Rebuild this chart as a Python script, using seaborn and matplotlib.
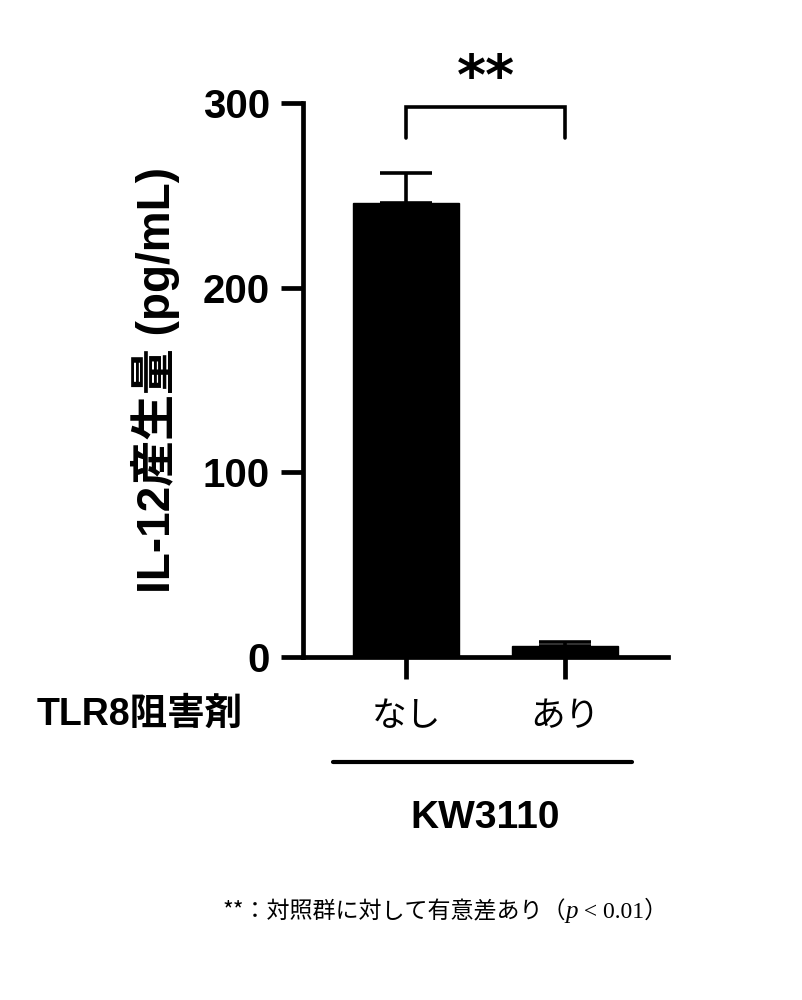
import matplotlib
matplotlib.use("Agg")
import matplotlib.pyplot as plt
import seaborn as sns
import pandas as pd

# data
groups = ["なし", "あり"]
il12 = [246, 6]
sem = [16, 2.3]
y_ticks = [0, 100, 200, 300]

sns.set_theme(style="ticks")
plt.rcParams["font.family"] = ["Liberation Sans", "Noto Sans CJK JP", "DejaVu Sans"]
plt.rcParams.update({"text.color": "black", "axes.labelcolor": "black",
                     "xtick.color": "black", "ytick.color": "black",
                     "axes.edgecolor": "black"})

df = pd.DataFrame({"group": groups, "value": il12})

fig = plt.figure(figsize=(8.02, 10), dpi=100)
ax = fig.add_axes([0.378, 0.343, 0.455, 0.554])

sns.barplot(data=df, x="group", y="value", color="black", edgecolor="black",
            width=0.667, linewidth=1, saturation=1, errorbar=None, ax=ax)
ax.errorbar(range(len(groups)), il12, yerr=[[0] * len(sem), sem], fmt="none",
            ecolor="black", elinewidth=2.6, capsize=19, capthick=2.6, zorder=3)

ax.set_xlim(-0.65, 1.65)
ax.set_ylim(0, 300)
ax.set_yticks(y_ticks)
ax.set_yticklabels([str(t) for t in y_ticks], fontsize=29, fontweight="bold")
ax.set_xticks(range(len(groups)))
ax.set_xticklabels(groups, fontsize=25, family=["Noto Sans CJK JP", "DejaVu Sans"])
ax.set_xlabel("")
ax.set_ylabel("IL-12産生量 (pg/mL)", fontsize=33, fontweight="bold", labelpad=16)

sns.despine(ax=ax)
for side in ["left", "bottom"]:
    ax.spines[side].set_linewidth(3.4)
ax.tick_params(axis="both", width=3.4, length=16, color="black")
ax.tick_params(axis="y", pad=8)
ax.tick_params(axis="x", pad=14)

# significance bracket
br_low, br_high = 281, 298
ax.plot([0, 0, 1, 1], [br_low, br_high, br_high, br_low], color="black",
        lw=2.6, clip_on=False, solid_joinstyle="miter")
ax.text(0.5, 313, "**", ha="center", va="center", fontsize=40,
        fontweight="bold", family="DejaVu Sans", clip_on=False)

# group label row
fig.text(37 / 802, 1 - 715 / 1000, "TLR8阻害剤", ha="left", va="center",
         fontsize=27, fontweight="bold")
ax.plot([-0.46, 1.42], [-0.19, -0.19], color="black", lw=3,
        transform=ax.get_xaxis_transform(), clip_on=False)
ax.text(0.5, -0.29, "KW3110", ha="center", va="center", fontsize=28,
        fontweight="bold", transform=ax.get_xaxis_transform())

# footnote
t1 = fig.text(222 / 802, 1 - 918 / 1000, "**：対照群に対して有意差あり（",
              ha="left", va="baseline", fontsize=16.6,
              family=["Noto Sans CJK JP", "DejaVu Sans"])
t2 = fig.text(0, 0, "p", ha="left", va="baseline", fontsize=18,
              family="Liberation Serif", style="italic")
t3 = fig.text(0, 0, " < 0.01）", ha="left", va="baseline", fontsize=17,
              family=["Liberation Serif", "Noto Sans CJK JP"])
fig.canvas.draw()
r = fig.canvas.get_renderer()
bb1 = t1.get_window_extent(r)
t2.set_position((bb1.x1 / fig.bbox.width, t1.get_position()[1]))
bb2 = t2.get_window_extent(r)
t3.set_position((bb2.x1 / fig.bbox.width, t1.get_position()[1]))

fig.savefig("out.png", dpi=100)
